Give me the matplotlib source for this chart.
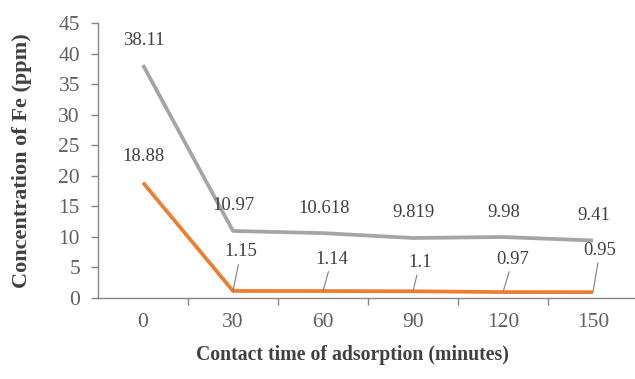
import matplotlib
matplotlib.use("Agg")
import matplotlib.pyplot as plt
import numpy as np

categories = ["0", "30", "60", "90", "120", "150"]
gray_vals = [38.11, 10.97, 10.618, 9.819, 9.98, 9.41]
orange_vals = [18.88, 1.15, 1.14, 1.1, 0.97, 0.95]
gray_labels = ["38.11", "10.97", "10.618", "9.819", "9.98", "9.41"]
orange_labels = ["18.88", "1.15", "1.14", "1.1", "0.97", "0.95"]
yticks = [0, 5, 10, 15, 20, 25, 30, 35, 40, 45]

plt.rcParams['font.family'] = ['Liberation Serif', 'DejaVu Serif']

fig = plt.figure(figsize=(6.35, 3.79), dpi=100)
W, H = 635, 379
left, right = 98 / W, 638 / W
bottom, top = (H - 298) / H, (H - 23) / H
ax = fig.add_axes([left, bottom, right - left, top - bottom])

x = np.arange(len(categories))
ax.plot(x, gray_vals, color="#a5a5a5", lw=2.7, solid_capstyle="butt")
ax.plot(x, orange_vals, color="#ed7d31", lw=2.7, solid_capstyle="butt")

ax.set_xlim(-0.5, 5.5)
ax.set_ylim(0, 45)
ax.set_yticks(yticks)
ax.set_xticks(x)
ax.set_xticklabels(categories)
ax.set_xticks(np.arange(0.5, 5.5, 1), minor=True)
tick_color = "#606060"
ax.tick_params(axis='x', which='major', length=0, pad=11, labelsize=15.5, colors=tick_color)
ax.tick_params(axis='x', which='minor', length=5, width=1, color="#868686", direction='out')
ax.tick_params(axis='y', length=5, width=1, color="#868686", labelsize=15.5,
               labelcolor=tick_color, pad=8)

for s in ["top", "right"]:
    ax.spines[s].set_visible(False)
for s in ["left", "bottom"]:
    ax.spines[s].set_color("#868686")
    ax.spines[s].set_linewidth(1)

lab_color = "#404040"
for i, (v, t) in enumerate(zip(gray_vals, gray_labels)):
    ax.annotate(t, (i, v), xytext=(1, 25), textcoords='offset pixels',
                ha='center', va='center', fontsize=13.5, color=lab_color)

orange_offsets = [(1, 26), (8, 39), (9, 32), (7, 29), (10, 33), (7, 42)]
for i, (v, t) in enumerate(zip(orange_vals, orange_labels)):
    dx, dy = orange_offsets[i]
    if i == 0:
        ax.annotate(t, (i, v), xytext=(dx, dy), textcoords='offset pixels',
                    ha='center', va='center', fontsize=13.5, color=lab_color)
    else:
        ax.annotate(t, (i, v), xytext=(dx, dy), textcoords='offset pixels',
                    ha='center', va='center', fontsize=13.5, color=lab_color,
                    arrowprops=dict(arrowstyle='-', color="#7f7f7f", lw=0.8,
                                    shrinkA=1, shrinkB=0))

ax.set_xlabel("Contact time of adsorption (minutes)", fontsize=14.2, fontweight='bold',
              color="#404040", va='center')
ax.xaxis.set_label_coords(0.472, -0.207)
ax.set_ylabel("Concentration of Fe (ppm)", fontsize=16, fontweight='bold',
              color="#404040", va='center')
ax.yaxis.set_label_coords(-0.1407, 0.50)

fig.savefig("out.png", dpi=100)
